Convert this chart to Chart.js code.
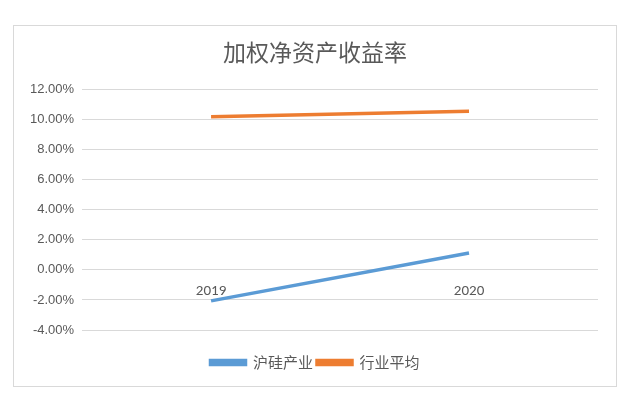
<!DOCTYPE html>
<html>
<head>
<meta charset="utf-8">
<script src="https://cdn.jsdelivr.net/npm/chart.js@4"></script>
<style>
  html, body { margin: 0; padding: 0; background: #fff; }
  #frame {
    position: absolute; left: 13px; top: 25px;
    width: 602px; height: 360px;
    border: 1px solid #d9d9d9;
  }
  #c { display: block; }
</style>
</head>
<body>
<div id="frame"><canvas id="c" width="602" height="360"></canvas></div>
<script>
// 数据
const years = ['2019', '2020'];
const huGui = [-2.06, 1.13];      // 沪硅产业
const hangYe = [10.20, 10.56];    // 行业平均
const yTicks = { min: -4, max: 12, step: 2 };

const textColor = '#595959';
const cjk = '"Noto Sans CJK SC", "Noto Sans", sans-serif';

// 标题和图例按整个图框居中，而不是按左右不等的内边距居中
const centerBoxes = {
    id: 'centerBoxes',
    afterLayout(chart) {
        const shift = 5;
        [chart.titleBlock, chart.legend].forEach(box => {
            if (box) { box.left += shift; box.right += shift; }
        });
    }
};

new Chart(document.getElementById('c'), {
    type: 'line',
    data: {
        labels: years,
        datasets: [
            { label: '沪硅产业', data: huGui, borderColor: '#5b9bd5', backgroundColor: '#5b9bd5',
              borderWidth: 3.5, pointRadius: 0, tension: 0 },
            { label: '行业平均', data: hangYe, borderColor: '#ed7d31', backgroundColor: '#ed7d31',
              borderWidth: 3.5, pointRadius: 0, tension: 0 }
        ]
    },
    plugins: [centerBoxes],
    options: {
        responsive: false,
        animation: false,
        layout: { padding: { left: 8, right: 18, top: 12, bottom: 6 } },
        plugins: {
            title: {
                display: true,
                text: '加权净资产收益率',
                color: textColor,
                font: { family: cjk, size: 23, weight: 'normal' },
                padding: { top: 0, bottom: 24 }
            },
            legend: {
                position: 'bottom',
                // 空标题只用来在图例上方留出间距
                title: { display: true, text: '', font: { size: 1, lineHeight: 1 }, padding: { top: 20, bottom: 0 } },
                labels: {
                    color: textColor,
                    font: { family: cjk, size: 15 },
                    boxWidth: 35,
                    boxHeight: 4,
                    padding: 4
                }
            },
            tooltip: { enabled: false }
        },
        scales: {
            x: {
                position: { y: 0 },
                offset: true,
                grid: { display: false },
                border: { display: false },
                ticks: { color: textColor, font: { family: 'Carlito, "Liberation Sans", sans-serif', size: 15 }, padding: 4 }
            },
            y: {
                min: yTicks.min,
                max: yTicks.max,
                grid: { color: '#d9d9d9', drawTicks: false },
                border: { display: false },
                ticks: {
                    stepSize: yTicks.step,
                    color: textColor,
                    padding: 8,
                    font: { family: '"Liberation Sans", sans-serif', size: 13 },
                    callback: v => v.toFixed(2) + '%'
                }
            }
        }
    }
});
</script>
</body>
</html>
